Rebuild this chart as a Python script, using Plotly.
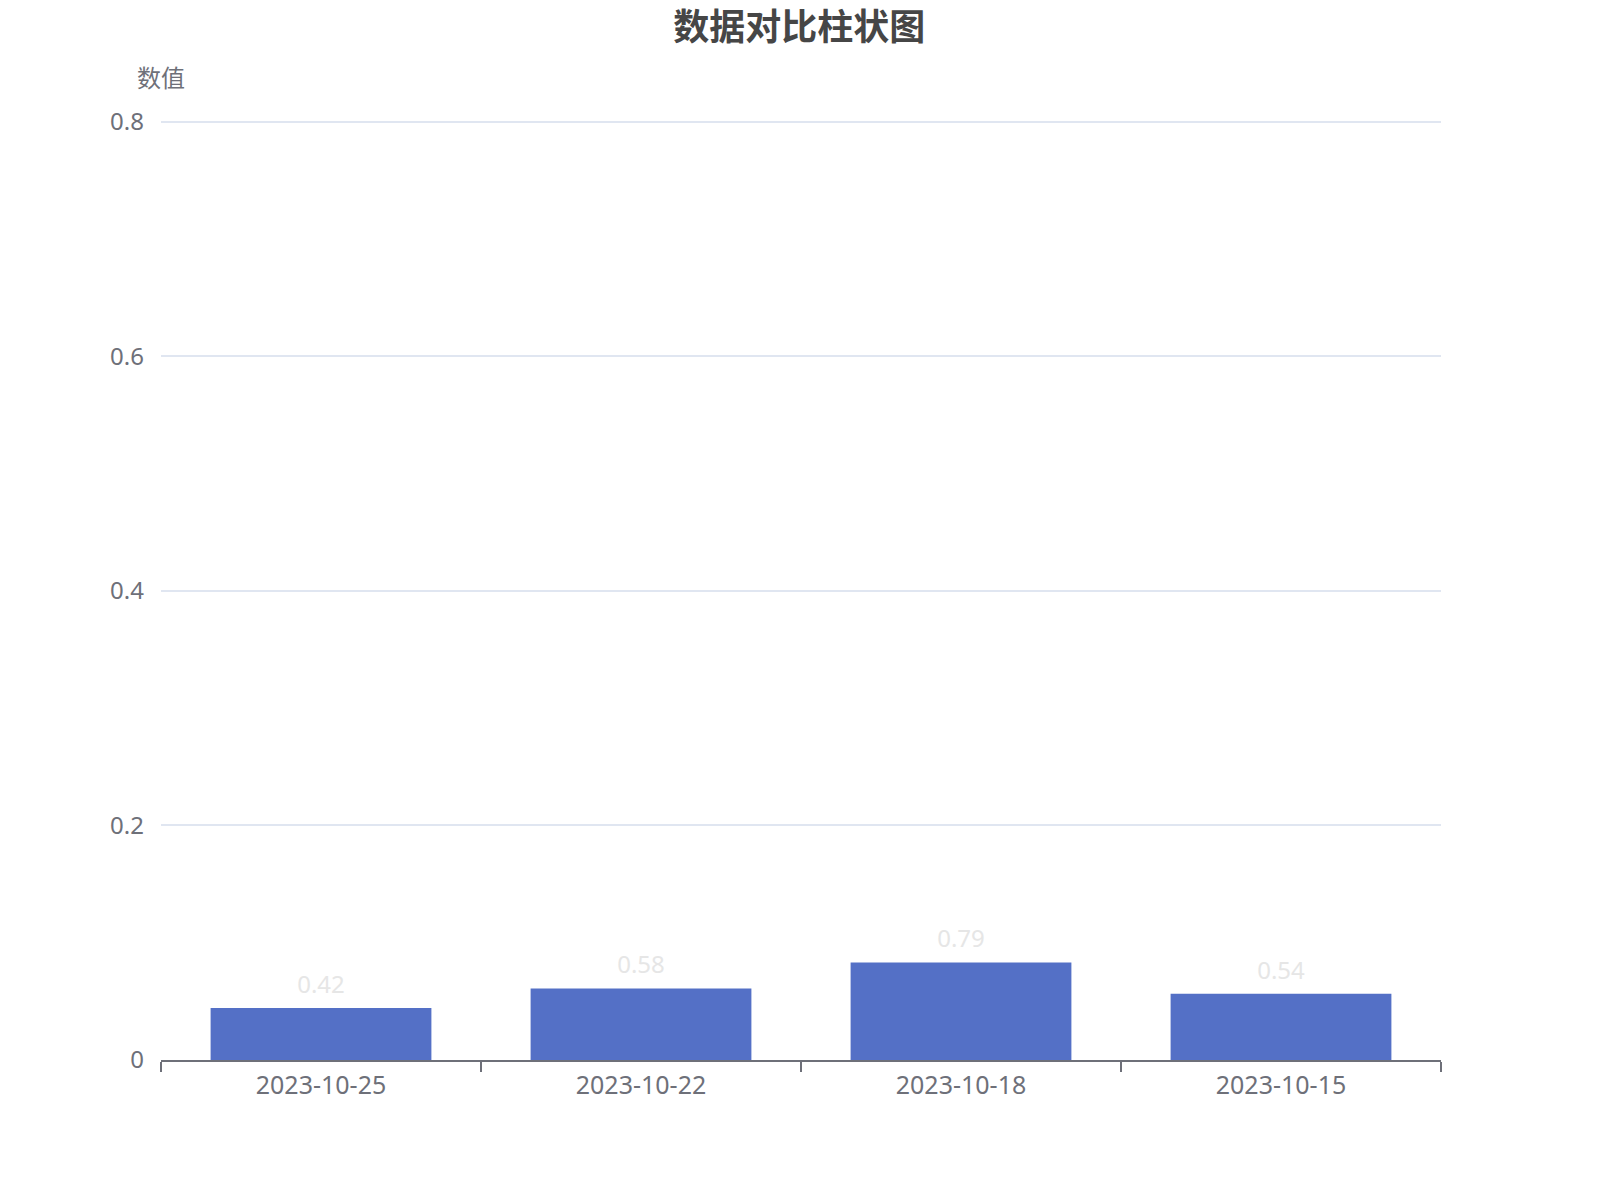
import plotly.graph_objects as go

# data
dates = ["2023-10-25", "2023-10-22", "2023-10-18", "2023-10-15"]
bar_values = [0.0443, 0.0610, 0.0831, 0.0564]
bar_labels = ["0.42", "0.58", "0.79", "0.54"]
y_ticks = [0, 0.2, 0.4, 0.6, 0.8]

font_family = "Noto Sans, Noto Sans CJK SC, sans-serif"
axis_grey = "#6e7079"

# page body has an 8px margin, so the figure is a bit smaller than the window
W, H = 1592, 1192

fig = go.Figure()
fig.add_trace(
    go.Bar(
        x=dates,
        y=bar_values,
        marker=dict(color="#5470c6", line=dict(width=0)),
        hoverinfo="x+y",
    )
)
# value labels above the bars
fig.add_trace(
    go.Scatter(
        x=dates,
        y=bar_values,
        text=bar_labels,
        mode="markers+text",
        textposition="top center",
        marker=dict(size=13, opacity=0),
        textfont=dict(size=24, color="#e6e6e6", family=font_family),
        cliponaxis=False,
        hoverinfo="skip",
    )
)

fig.update_layout(
    width=W,
    height=H,
    margin=dict(l=153, r=W - 153 - 1280, t=112, b=H - 112 - 940),
    paper_bgcolor="white",
    plot_bgcolor="white",
    bargap=0.31,
    showlegend=False,
    font=dict(family=font_family, color=axis_grey),
    title=dict(
        text="<b>数据对比柱状图</b>",
        x=0.497,
        xanchor="center",
        y=1 - 19 / H,
        yanchor="middle",
        font=dict(size=36, color="#464646", family="Noto Sans CJK SC"),
    ),
    annotations=[
        dict(
            text="数值",
            xref="paper", yref="paper",
            x=0, y=1 + 44 / 940,
            xanchor="center", yanchor="middle",
            showarrow=False,
            font=dict(size=24, color=axis_grey, family="Noto Sans CJK SC"),
        )
    ],
)

fig.update_xaxes(
    type="category",
    showgrid=False,
    showline=True,
    linecolor=axis_grey,
    linewidth=2,
    ticks="outside",
    tickson="boundaries",
    ticklen=10,
    tickwidth=2,
    tickcolor=axis_grey,
    ticklabelstandoff=2,
    tickfont=dict(size=25, color=axis_grey),
)

fig.update_yaxes(
    range=[0, 0.8015],
    tickvals=y_ticks,
    ticktext=[f"{v:g}" for v in y_ticks],
    showgrid=True,
    gridcolor="#e0e6f1",
    gridwidth=2,
    zeroline=False,
    showline=False,
    ticks="",
    ticklabelstandoff=16,
    tickfont=dict(size=24, color=axis_grey),
)

fig.write_html("out.html")
